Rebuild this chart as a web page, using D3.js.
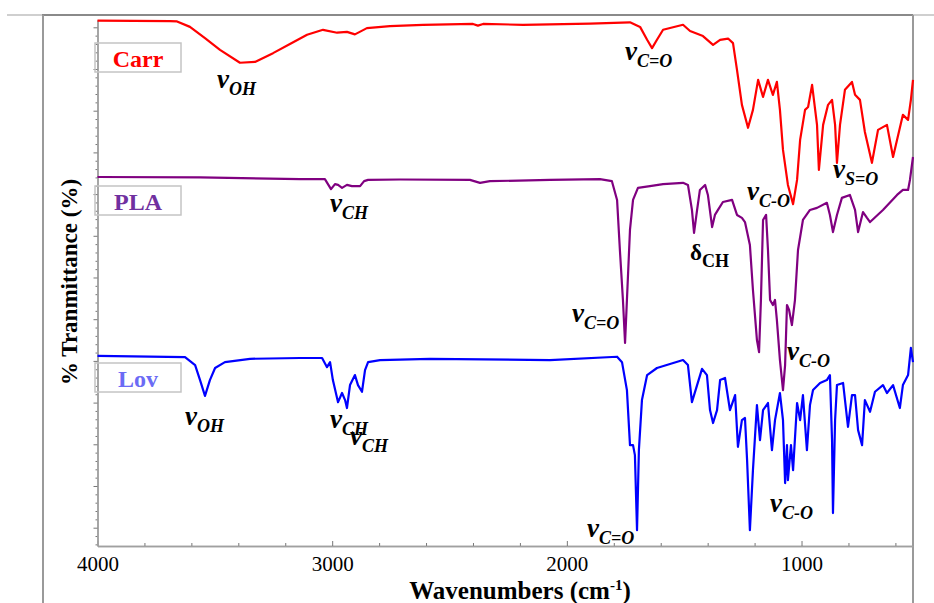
<!DOCTYPE html>
<html>
<head>
<meta charset="utf-8">
<script src="https://cdn.jsdelivr.net/npm/d3@7"></script>
<style>
  body { margin: 0; background: #fff; }
  svg { display: block; font-family: "Liberation Serif", "Times New Roman", serif; }
</style>
</head>
<body>
<div id="chart"></div>
<script>
// FTIR spectra, [wavenumber (cm-1), offset transmittance]
const carr = [
  [4000,121.6],[3691,121.5],[3661,121.4],[3606,120.1],[3542,117.4],[3478,114.6],[3393,111.5],
  [3329,111.7],[3252,113.8],[3180,116.0],[3107,118.2],[3039,119.4],[2979,118.7],[2937,118.9],
  [2903,118.3],[2852,119.8],[2754,120.3],[2613,120.6],[2400,120.8],[2379,120.4],[2357,120.8],
  [2187,120.6],[1901,120.9],[1731,121.2],[1688,120.1],[1658,117.0],[1637,115.0],[1616,117.0],
  [1590,119.4],[1505,120.6],[1475,119.1],[1420,117.9],[1377,115.8],[1347,117.0],[1313,117.3],
  [1292,116.2],[1275,109.8],[1254,101.4],[1228,95.9],[1207,100.2],[1185,107.4],[1164,103.3],
  [1143,107.4],[1122,103.8],[1105,106.9],[1092,100.2],[1079,90.6],[1058,82.2],[1036,77.6],
  [1019,83.4],[1006,93.0],[985,100.2],[972,100.9],[955,106.2],[934,96.6],[926,85.8],[908,96.6],
  [887,101.4],[870,102.6],[857,96.6],[849,87.5],[836,96.6],[815,105.0],[785,106.9],[772,103.8],
  [751,102.6],[730,94.9],[700,87.5],[674,95.4],[636,96.6],[610,88.9],[568,99.0],[546,97.8],
  [534,102.6],[525,107.4]
];
const pla = [
  [4000,84.1],[3563,84.0],[3137,83.6],[3031,83.6],[3005,81.2],[2988,82.4],[2975,82.2],[2958,81.5],
  [2937,82.2],[2916,81.9],[2881,81.9],[2864,83.1],[2847,83.4],[2711,83.5],[2413,83.4],[2370,82.7],
  [2328,83.1],[2072,83.4],[1859,83.6],[1808,83.1],[1786,78.6],[1774,66.6],[1761,54.6],[1752,44.3],
  [1744,54.6],[1731,71.4],[1718,78.6],[1697,81.5],[1646,81.9],[1590,82.4],[1505,82.7],[1484,82.2],
  [1467,76.2],[1458,70.7],[1445,76.2],[1433,81.0],[1411,82.2],[1399,79.8],[1381,72.1],[1369,75.0],
  [1356,76.2],[1335,78.1],[1296,78.6],[1275,75.0],[1254,74.3],[1241,73.3],[1220,67.8],[1207,57.0],
  [1190,45.0],[1181,42.1],[1173,54.6],[1164,73.8],[1151,75.0],[1143,66.6],[1134,54.6],[1122,53.4],
  [1113,54.6],[1105,49.8],[1092,40.2],[1079,33.0],[1070,39.0],[1062,53.4],[1053,52.2],[1041,48.6],
  [1028,54.6],[1015,66.6],[994,73.8],[964,76.2],[934,76.7],[892,77.9],[879,75.0],[866,70.9],
  [849,75.0],[828,79.1],[794,79.8],[772,76.2],[759,70.9],[738,75.7],[721,74.3],[708,73.3],
  [653,76.2],[593,79.8],[568,81.0],[546,81.0],[538,83.4],[525,88.9]
];
const lov = [
  [4000,41.2],[3627,40.9],[3584,39.0],[3563,35.4],[3542,31.6],[3521,35.4],[3499,38.3],[3457,39.7],
  [3350,40.5],[3137,40.7],[3043,40.7],[3022,38.5],[3009,39.7],[2997,35.4],[2975,30.1],[2958,32.3],
  [2945,30.6],[2937,28.7],[2924,34.2],[2903,36.6],[2890,34.2],[2873,32.6],[2860,37.8],[2847,39.7],
  [2796,40.2],[2583,40.5],[2072,40.2],[1786,41.0],[1765,39.7],[1744,33.0],[1731,19.8],[1718,19.8],
  [1710,17.4],[1701,-0.6],[1693,18.6],[1680,30.6],[1658,36.6],[1616,38.3],[1505,40.2],[1484,39.0],
  [1467,30.1],[1445,34.2],[1424,38.1],[1403,36.6],[1390,28.2],[1377,25.1],[1360,28.2],[1347,35.4],
  [1326,35.9],[1305,28.2],[1283,31.8],[1271,19.4],[1254,25.8],[1241,26.3],[1232,16.2],[1220,-0.6],
  [1207,13.8],[1190,29.4],[1177,21.0],[1164,28.2],[1143,29.9],[1126,18.6],[1113,25.8],[1092,32.3],
  [1079,25.8],[1070,10.7],[1062,19.8],[1058,11.4],[1045,19.8],[1036,13.8],[1019,29.9],[1006,25.8],
  [994,31.8],[977,18.6],[964,29.4],[951,33.0],[921,34.7],[892,35.4],[879,36.6],[870,21.0],
  [866,3.5],[857,25.8],[849,34.2],[823,34.7],[802,24.2],[785,31.8],[772,31.8],[759,23.4],
  [742,19.8],[730,30.6],[708,27.8],[687,32.6],[653,34.2],[636,32.3],[610,34.2],[581,28.7],
  [568,34.2],[546,36.6],[534,43.1],[525,39.7]
];

const seriesNames = ['Carr', 'PLA', 'Lov'];
const xTicks = [4000, 3000, 2000, 1000];

// band assignments: symbol, subscript, anchor [wavenumber, transmittance]
const bands = [
  ['v', 'OH', 3491, 105.4], ['v', 'C=O', 1752, 112.2], ['v', 'S=O', 866, 83.9],
  ['v', 'CH', 3009, 75.7], ['v', 'C-O', 1232, 78.6], ['δ', 'CH', 1475, 64.2],
  ['v', 'C=O', 1978, 49.3], ['v', 'C-O', 1062, 40.2],
  ['v', 'OH', 3627, 24.6], ['v', 'CH', 3009, 23.9], ['v', 'CH', 2924, 19.8],
  ['v', 'C=O', 1914, -2.2], ['v', 'C-O', 1134, 3.8]
];

const width = 934, height = 603;
const serif = '"Liberation Serif", "Times New Roman", serif';
const colors = { Carr: '#ff0000', PLA: '#800080', Lov: '#0000ff' };
const legendColors = { Carr: '#ff0000', PLA: '#7030a0', Lov: '#6b6bf5' };

const svg = d3.select('#chart').append('svg')
  .attr('width', width)
  .attr('height', height);

const x = d3.scaleLinear().domain([4000, 525]).range([97.5, 913]);
const y = d3.scaleLinear().domain([-4.39, 121.75]).range([546, 20]);

// outer frame
svg.append('line').attr('x1', 7).attr('x2', 934).attr('y1', 15).attr('y2', 15)
  .attr('stroke', '#cfcfcf').attr('stroke-width', 2);
svg.append('line').attr('x1', 42).attr('x2', 913).attr('y1', 15).attr('y2', 15)
  .attr('stroke', '#8a8a8a').attr('stroke-width', 2);
svg.append('line').attr('x1', 43).attr('x2', 43).attr('y1', 15).attr('y2', height)
  .attr('stroke', '#9a9a9a').attr('stroke-width', 2);
svg.append('line').attr('x1', 913).attr('x2', 913).attr('y1', 15).attr('y2', height)
  .attr('stroke', '#9a9a9a').attr('stroke-width', 2);

// x axis
const xMinor = d3.range(4000, 524, -200).filter(d => !xTicks.includes(d));
const gx = svg.append('g').attr('transform', 'translate(0,546)');
gx.call(d3.axisBottom(x).tickValues(xMinor).tickSize(-3).tickSizeOuter(0).tickFormat(''));
gx.append('g')
  .call(d3.axisBottom(x).tickValues(xTicks).tickSize(-5).tickSizeOuter(0).tickPadding(10)
    .tickFormat(d3.format('d')));
gx.selectAll('g').attr('font-family', serif);
gx.selectAll('path.domain').attr('stroke', '#a0a0a0').attr('stroke-width', 1.5);
gx.selectAll('line').attr('stroke', '#777');
gx.selectAll('text')
  .attr('font-family', serif)
  .attr('font-size', 21)
  .attr('fill', '#000');

// y axis (no labels)
const gy = svg.append('g').attr('transform', 'translate(97.5,0)');
gy.call(d3.axisLeft(y).tickValues(d3.range(-4, 121, 2).filter(d => d % 10 !== 0)).tickSize(2).tickSizeOuter(0).tickFormat(''));
gy.append('g').call(d3.axisLeft(y).tickValues(d3.range(0, 121, 10)).tickSize(4).tickSizeOuter(0).tickFormat(''));
gy.selectAll('path.domain').attr('stroke', '#a0a0a0').attr('stroke-width', 1.5);
gy.selectAll('line').attr('stroke', '#777');

// spectra
const line = d3.line().x(d => x(d[0])).y(d => y(d[1]));
[carr, pla, lov].forEach((s, i) => {
  svg.append('path')
    .datum(s)
    .attr('fill', 'none')
    .attr('stroke', colors[seriesNames[i]])
    .attr('stroke-width', 2.2)
    .attr('stroke-linejoin', 'round')
    .attr('d', line);
});

// legend boxes
const legendY = [43, 186, 363];
seriesNames.forEach((name, i) => {
  const g = svg.append('g').attr('transform', `translate(95,${legendY[i]})`);
  g.append('rect').attr('width', 86).attr('height', 29)
    .attr('fill', 'none').attr('stroke', '#c4c4c4').attr('stroke-width', 1.5);
  g.append('text')
    .attr('x', 43).attr('y', 24)
    .attr('text-anchor', 'middle')
    .style('font-size', '24px')
    .style('font-weight', 'bold')
    .attr('fill', legendColors[name])
    .text(name);
});

// band labels
bands.forEach(b => {
  const t = svg.append('text')
    .attr('x', x(b[2])).attr('y', y(b[3]))
    .style('font-weight', 'bold')
    .style('font-style', b[0] === 'v' ? 'italic' : 'normal')
    .attr('fill', '#000');
  t.append('tspan').style('font-size', b[0] === 'v' ? '27px' : '23px').text(b[0]);
  t.append('tspan').attr('dy', 7).style('font-size', '18px').text(b[1]);
});

// axis titles
const xt = svg.append('text')
  .attr('x', 520).attr('y', 599)
  .attr('text-anchor', 'middle')
  .style('font-size', '25px')
  .style('font-weight', 'bold');
xt.append('tspan').text('Wavenumbers (cm');
xt.append('tspan').attr('dy', -9).style('font-size', '15px').text('-1');
xt.append('tspan').attr('dy', 9).text(')');

svg.append('text')
  .attr('transform', 'translate(77,282) rotate(-90)')
  .attr('text-anchor', 'middle')
  .style('font-size', '23px')
  .style('font-weight', 'bold')
  .text('% Tranmittance (%)');
</script>
</body>
</html>
